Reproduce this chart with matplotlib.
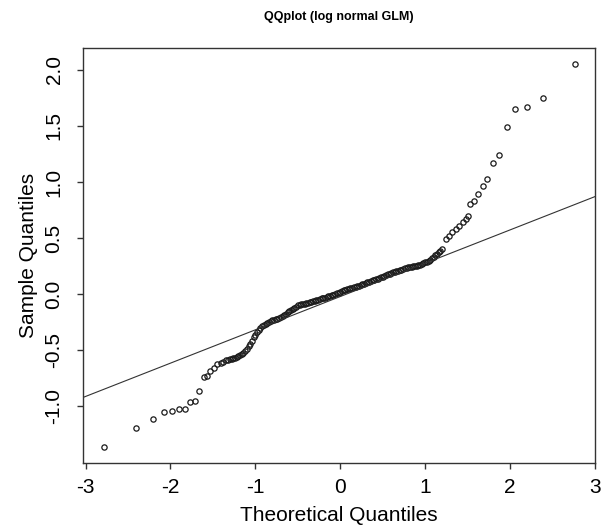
import matplotlib
matplotlib.use("Agg")
import matplotlib.pyplot as plt

plt.rcParams['font.family'] = ['Liberation Sans', 'DejaVu Sans']

# lower tail
low_x = [-2.78, -2.40, -2.21, -2.08, -1.98, -1.90, -1.83, -1.77, -1.71, -1.66,
         -1.61, -1.57, -1.53, -1.49, -1.45, -1.41, -1.38]
low_y = [-1.36, -1.19, -1.11, -1.05, -1.04, -1.02, -1.02, -0.96, -0.95, -0.86,
         -0.74, -0.73, -0.68, -0.66, -0.62, -0.61, -0.60]

# dense middle band
mid_x = [-1.34, -1.32, -1.30, -1.28, -1.26, -1.24, -1.22, -1.20, -1.18, -1.16,
         -1.14, -1.12, -1.10, -1.08, -1.06, -1.04, -1.02, -1.00, -0.98, -0.96,
         -0.94, -0.92, -0.90, -0.88, -0.86, -0.84, -0.82, -0.80, -0.78, -0.76,
         -0.74, -0.72, -0.70, -0.68, -0.66, -0.64, -0.62, -0.60, -0.58, -0.56,
         -0.54, -0.52, -0.50, -0.48, -0.46, -0.44, -0.42, -0.40, -0.38, -0.36,
         -0.34, -0.32, -0.30, -0.28, -0.26, -0.24, -0.22, -0.20, -0.18, -0.16,
         -0.14, -0.12, -0.10, -0.08, -0.06, -0.04, -0.02, 0.00, 0.02, 0.04,
         0.06, 0.08, 0.10, 0.12, 0.14, 0.16, 0.18, 0.20, 0.22, 0.24,
         0.26, 0.28, 0.30, 0.32, 0.34, 0.36, 0.38, 0.40, 0.42, 0.44,
         0.46, 0.48, 0.50, 0.52, 0.54, 0.56, 0.58, 0.60, 0.62, 0.64,
         0.66, 0.68, 0.70, 0.72, 0.74, 0.76, 0.78, 0.80, 0.82, 0.84,
         0.86, 0.88, 0.90, 0.92, 0.94, 0.96, 0.98, 1.00, 1.02, 1.04,
         1.06, 1.08, 1.10, 1.12, 1.14, 1.16, 1.18, 1.20]
mid_y = [-0.590, -0.586, -0.580, -0.575, -0.570, -0.565, -0.560, -0.552, -0.545, -0.533,
         -0.520, -0.503, -0.485, -0.463, -0.440, -0.413, -0.385, -0.360, -0.335, -0.317,
         -0.300, -0.287, -0.275, -0.265, -0.255, -0.247, -0.240, -0.234, -0.228, -0.223,
         -0.218, -0.212, -0.205, -0.195, -0.185, -0.173, -0.162, -0.151, -0.140, -0.130,
         -0.120, -0.110, -0.100, -0.095, -0.090, -0.088, -0.085, -0.082, -0.078, -0.073,
         -0.068, -0.064, -0.060, -0.054, -0.048, -0.042, -0.037, -0.034, -0.030, -0.024,
         -0.018, -0.014, -0.010, -0.005, 0.000, 0.007, 0.013, 0.020, 0.027, 0.034,
         0.040, 0.044, 0.047, 0.052, 0.057, 0.061, 0.065, 0.069, 0.073, 0.080,
         0.087, 0.094, 0.100, 0.107, 0.113, 0.120, 0.127, 0.131, 0.135, 0.139,
         0.143, 0.150, 0.157, 0.164, 0.170, 0.177, 0.183, 0.190, 0.197, 0.201,
         0.205, 0.209, 0.213, 0.220, 0.227, 0.231, 0.235, 0.239, 0.242, 0.245,
         0.248, 0.252, 0.255, 0.259, 0.263, 0.270, 0.277, 0.283, 0.290, 0.297,
         0.305, 0.319, 0.333, 0.347, 0.360, 0.373, 0.387, 0.400]

# upper tail
high_x = [1.24, 1.28, 1.32, 1.36, 1.40, 1.44, 1.48, 1.51, 1.53, 1.57,
          1.62, 1.68, 1.73, 1.80, 1.87, 1.96, 2.06, 2.20, 2.39, 2.77]
high_y = [0.49, 0.52, 0.55, 0.58, 0.61, 0.64, 0.67, 0.70, 0.80, 0.83,
          0.89, 0.96, 1.03, 1.17, 1.24, 1.49, 1.65, 1.67, 1.75, 2.05]

theo_q = low_x + mid_x + high_x
sample_q = low_y + mid_y + high_y

# reference line (qqline)
line_x = [-3.03, 3.0]
line_y = [-0.92, 0.87]

x_ticks = [-3, -2, -1, 0, 1, 2, 3]
x_labels = ["-3", "-2", "-1", "0", "1", "2", "3"]
y_ticks = [-1.0, -0.5, 0.0, 0.5, 1.0, 1.5, 2.0]
y_labels = ["-1.0", "-0.5", "0.0", "0.5", "1.0", "1.5", "2.0"]

fig = plt.figure(figsize=(6.08, 5.30), dpi=100)
ax = fig.add_axes([83 / 608, (530 - 463) / 530, (595 - 83) / 608, (463 - 48) / 530])

ax.plot(theo_q, sample_q, linestyle="none", marker="o", ms=3.8,
        mfc="none", mec="#1a1a1a", mew=0.9)
ax.plot(line_x, line_y, color="#333333", lw=0.8)

ax.set_xlim(-3.03, 3.0)
ax.set_ylim(-1.504, 2.194)

ax.set_xticks(x_ticks)
ax.set_xticklabels(x_labels, fontsize=15)
ax.set_yticks(y_ticks)
ax.set_yticklabels(y_labels, fontsize=15, rotation=90, va="center")
ax.tick_params(direction="out", length=4, width=1, color="#333333", pad=7)
ax.tick_params(axis="y", pad=10)

for s in ax.spines.values():
    s.set_color("#333333")
    s.set_linewidth(1)

ax.set_title("QQplot (log normal GLM)", fontsize=9, fontweight="bold", pad=20)
ax.set_xlabel("Theoretical Quantiles", fontsize=15, labelpad=6)
ax.set_ylabel("Sample Quantiles", fontsize=15, labelpad=5)

fig.savefig("out.png", dpi=100)
